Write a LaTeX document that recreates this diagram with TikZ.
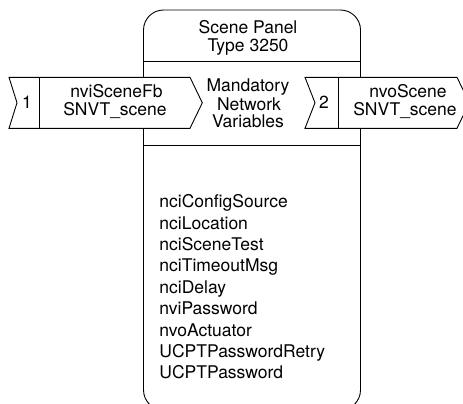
\documentclass[tikz,border=0pt]{standalone}
\usepackage{fontspec}
\setmainfont{TeX Gyre Heros}
\begin{document}
\begin{tikzpicture}[x=1pt,y=-1pt,line width=0.9pt,
  lbl/.style={anchor=base,inner sep=0pt,font=\fontsize{17.5}{20}\selectfont},
  lstl/.style={anchor=base west,inner sep=0pt,font=\fontsize{17.5}{20}\selectfont},
  arrowbox/.style={draw,fill=white,line join=miter}]
\useasboundingbox (0,0) rectangle (463,404);
\clip (0,0) rectangle (463,404);
% main box
\draw[rounded corners=20] (143.5,410) -- (143.5,10) -- (360.5,10) -- (360.5,410) -- cycle;
\draw (143.5,61.5) -- (360.5,61.5);
\draw (143.5,145.7) -- (360.5,145.7);
% header
\node[lbl] (t1) at (248,34) {Scene Panel};
\node[lbl] (t2) at (248,51.7) {Type 3250};
\node[lbl] (m1) at (248,92) {Mandatory};
\node[lbl] (m2) at (249,110) {Network};
\node[lbl] (m3) at (248,127.3) {Variables};
% left input arrow
\draw[arrowbox] (9,77.3) -- (190,77.3) -- (202.3,102.8) -- (190,128.3) -- (9,128.3) -- (17,102.8) -- cycle;
\draw (39.3,77.3) -- (39.3,128.3);
\node[lbl] (n1) at (27,108.3) {1};
\node[lbl] (i1) at (116.5,97) {nviSceneFb};
\node[lbl] (i2) at (115,115) {SNVT\_scene};
% right output arrow
\draw[arrowbox] (305,77.3) -- (457,77.3) -- (469.3,102.8) -- (457,128.3) -- (305,128.3) -- (315,102.8) -- cycle;
\draw (338,77.3) -- (338,128.3);
\node[lbl] (n2) at (324,108.3) {2};
\node[lbl] (o1) at (408,97) {nvoScene};
\node[lbl] (o2) at (405,115) {SNVT\_scene};
% list
\foreach \t [count=\i from 0] in {nciConfigSource,nciLocation,nciSceneTest,nciTimeoutMsg,nciDelay,nviPassword,nvoActuator,UCPTPasswordRetry,UCPTPassword}
  \node[lstl] (v\i) at (159,207.9+21.35*\i) {\t};
\end{tikzpicture}
\end{document}
